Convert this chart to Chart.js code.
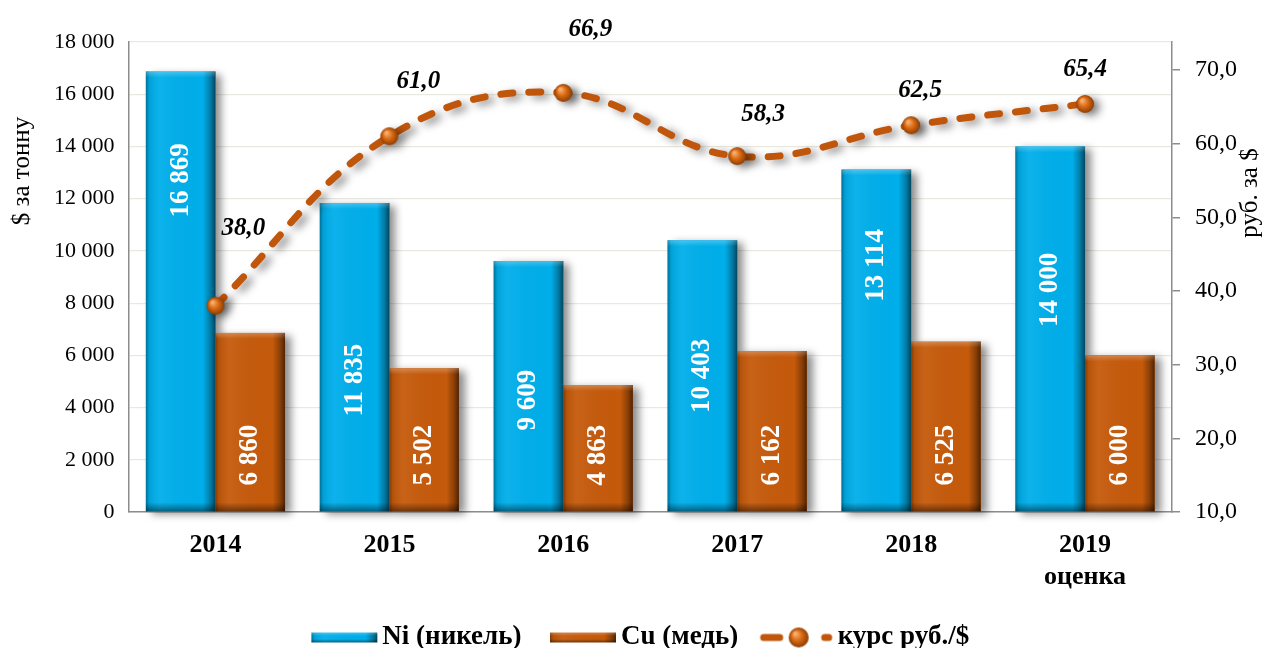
<!DOCTYPE html>
<html>
<head>
<meta charset="utf-8">
<script src="https://cdn.jsdelivr.net/npm/chart.js@4.4.0/dist/chart.umd.min.js"></script>
<style>
  html, body { margin: 0; padding: 0; background: #fff; }
  #wrap { position: relative; width: 1262px; height: 648px; }
</style>
</head>
<body>
<div id="wrap"><canvas id="chart"></canvas></div>
<script>
// Metal prices ($ per tonne) and RUB/USD rate.
const years = ['2014', '2015', '2016', '2017', '2018', ['2019', 'оценка']];
const nickel = [16869, 11835, 9609, 10403, 13114, 14000];
const copper = [6860, 5502, 4863, 6162, 6525, 6000];
const rate = [38.0, 61.0, 66.9, 58.3, 62.5, 65.4];
const rightTicks = [10, 20, 30, 40, 50, 60, 70];

// Label nudges (px): rate labels relative to the point, Ni labels relative to bar middle.
const rateLabelShift = [[28, -77], [29, -55], [27, -63], [26, -42], [9, -35], [0, -34]];
const niLabelShift = [-111, 23, 14, 0, -75, -39];

const SERIF = "'Liberation Serif', 'Times New Roman', serif";
const NI_COLOR = '#00aeea';
const CU_COLOR = '#c55a0b';
const LINE_COLOR = '#c0560b';

const fmtInt = v => String(v).replace(/\B(?=(\d{3})+(?!\d))/g, ' ');
const fmtDec = v => v.toFixed(1).replace('.', ',');

// ── Drawing helpers ───────────────────────────────────────────────────────

function bevel(ctx, x0, x1, top, bottom) {
  const w = x1 - x0;
  let g = ctx.createLinearGradient(x0, 0, x1, 0);
  g.addColorStop(0, 'rgba(0,0,0,0.35)');
  g.addColorStop(0.05, 'rgba(0,0,0,0.08)');
  g.addColorStop(0.2, 'rgba(255,255,255,0.05)');
  g.addColorStop(0.82, 'rgba(0,0,0,0)');
  g.addColorStop(0.93, 'rgba(0,0,0,0.3)');
  g.addColorStop(1, 'rgba(0,0,0,0.6)');
  ctx.fillStyle = g;
  ctx.fillRect(x0, top, w, bottom - top);
  const hl = Math.min(6, (bottom - top) / 3);
  g = ctx.createLinearGradient(0, top, 0, top + hl);
  g.addColorStop(0, 'rgba(255,255,255,0.25)');
  g.addColorStop(1, 'rgba(255,255,255,0)');
  ctx.fillStyle = g;
  ctx.fillRect(x0, top, w, hl);
  const sh = Math.min(9, (bottom - top) / 3);
  g = ctx.createLinearGradient(0, bottom - sh, 0, bottom);
  g.addColorStop(0, 'rgba(0,0,0,0)');
  g.addColorStop(1, 'rgba(0,0,0,0.45)');
  ctx.fillStyle = g;
  ctx.fillRect(x0, bottom - sh, w, sh);
}

function drawSphere(g, cx, cy, r) {
  const grad = g.createRadialGradient(cx - r * 0.35, cy - r * 0.4, r * 0.1, cx, cy, r);
  grad.addColorStop(0, '#f9b070');
  grad.addColorStop(0.45, '#dc6d16');
  grad.addColorStop(1, '#8c3c03');
  g.fillStyle = grad;
  g.beginPath();
  g.arc(cx, cy, r, 0, Math.PI * 2);
  g.fill();
}

function sphereImage(r) {
  const c = document.createElement('canvas');
  c.width = c.height = r * 2 + 2;
  drawSphere(c.getContext('2d'), r + 1, r + 1, r);
  return c;
}

// Legend icons: canvas wider than the legend box so the drawing ends near the text.
const BOX_W = 73, ICON_W = 92, ICON_H = 24;
function barIcon(color) {
  const c = document.createElement('canvas');
  c.width = ICON_W; c.height = ICON_H;
  const g = c.getContext('2d');
  const x0 = ICON_W - 67, x1 = ICON_W - 1, top = 7, bottom = 17;
  g.fillStyle = color;
  g.fillRect(x0, top, x1 - x0, bottom - top);
  bevel(g, x0, x1, top, bottom);
  return c;
}
function lineIcon() {
  const c = document.createElement('canvas');
  c.width = ICON_W; c.height = ICON_H;
  const g = c.getContext('2d');
  const o = ICON_W - 74;
  g.strokeStyle = LINE_COLOR;
  g.lineWidth = 7;
  g.lineCap = 'round';
  g.beginPath(); g.moveTo(o + 4, 12); g.lineTo(o + 20, 12); g.stroke();
  g.beginPath(); g.moveTo(o + 65, 12); g.lineTo(o + 69, 12); g.stroke();
  drawSphere(g, o + 39, 12, 10);
  return c;
}

const pointImg = sphereImage(9);

// ── Plugins ───────────────────────────────────────────────────────────────

function setShadow(ctx) {
  ctx.shadowColor = 'rgba(0,0,0,0.45)';
  ctx.shadowBlur = 8;
  ctx.shadowOffsetX = 6;
  ctx.shadowOffsetY = 3;
}

const shadowPlugin = {
  id: 'shadows',
  // Bar shadows first, so that the bars themselves (drawn next) cover them.
  beforeDatasetsDraw(chart) {
    const ctx = chart.ctx;
    ctx.save();
    setShadow(ctx);
    [0, 1].forEach(di => {
      ctx.fillStyle = chart.data.datasets[di].backgroundColor;
      chart.getDatasetMeta(di).data.forEach(el => {
        const p = el.getProps(['x', 'y', 'base', 'width'], true);
        ctx.fillRect(p.x - p.width / 2, p.y, p.width, p.base - p.y);
      });
    });
    ctx.restore();
  },
  beforeDatasetDraw(chart, args) {
    chart.ctx.save();
    if (args.meta.type === 'line') setShadow(chart.ctx);
  },
  afterDatasetDraw(chart, args) {
    const ctx = chart.ctx;
    ctx.restore();
    if (args.meta.type !== 'bar') return;
    args.meta.data.forEach(el => {
      const p = el.getProps(['x', 'y', 'base', 'width'], true);
      bevel(ctx, p.x - p.width / 2, p.x + p.width / 2, p.y, p.base);
    });
  },
};

const labelPlugin = {
  id: 'valueLabels',
  afterDatasetsDraw(chart) {
    const ctx = chart.ctx;
    ctx.save();
    ctx.fillStyle = '#fff';
    ctx.font = `bold 27px ${SERIF}`;
    ctx.textBaseline = 'middle';
    chart.getDatasetMeta(0).data.forEach((el, i) => {
      const p = el.getProps(['x', 'y', 'base'], true);
      ctx.save();
      ctx.translate(p.x, (p.y + p.base) / 2 + niLabelShift[i]);
      ctx.rotate(-Math.PI / 2);
      ctx.textAlign = 'center';
      ctx.fillText(fmtInt(nickel[i]), 0, 0);
      ctx.restore();
    });
    chart.getDatasetMeta(1).data.forEach((el, i) => {
      const p = el.getProps(['x', 'y', 'base'], true);
      ctx.save();
      ctx.translate(p.x, p.base - 26);
      ctx.rotate(-Math.PI / 2);
      ctx.textAlign = 'left';
      ctx.fillText(fmtInt(copper[i]), 0, 0);
      ctx.restore();
    });
    ctx.fillStyle = '#000';
    ctx.font = `italic bold 25px ${SERIF}`;
    ctx.textAlign = 'center';
    chart.getDatasetMeta(2).data.forEach((el, i) => {
      const [dx, dy] = rateLabelShift[i];
      ctx.fillText(fmtDec(rate[i]), el.x + dx, el.y + dy);
    });
    // axis titles
    ctx.fillStyle = '#000';
    ctx.save();
    ctx.font = `25px ${SERIF}`;
    ctx.translate(22, 171);
    ctx.rotate(-Math.PI / 2);
    ctx.fillText('$ за тонну', 0, 0);
    ctx.restore();
    ctx.save();
    ctx.font = `25px ${SERIF}`;
    ctx.translate(1250, 193);
    ctx.rotate(-Math.PI / 2);
    ctx.fillText('руб. за $', 0, 0);
    ctx.restore();
    ctx.restore();
  },
};

// ── Chart ─────────────────────────────────────────────────────────────────

new Chart(document.getElementById('chart'), {
  data: {
    labels: years,
    datasets: [
      { type: 'bar', label: 'Ni (никель)', data: nickel, backgroundColor: NI_COLOR, yAxisID: 'y',
        order: 1, categoryPercentage: 0.8, barPercentage: 1.0 },
      { type: 'bar', label: 'Cu (медь)', data: copper, backgroundColor: CU_COLOR, yAxisID: 'y',
        order: 2, categoryPercentage: 0.8, barPercentage: 1.0 },
      { type: 'line', label: 'курс руб./$', data: rate, yAxisID: 'y2', order: 0,
        borderColor: LINE_COLOR, borderWidth: 7, borderDash: [12, 16], borderCapStyle: 'round',
        tension: 0.4, pointStyle: pointImg, pointRadius: 9 },
    ],
  },
  options: {
    responsive: true,
    maintainAspectRatio: false,
    animation: false,
    layout: { padding: { top: 42, left: 40, right: 10, bottom: -13 } },
    plugins: {
      tooltip: { enabled: false },
      legend: {
        position: 'bottom',
        labels: {
          usePointStyle: true,
          pointStyleWidth: BOX_W,
          padding: 13,
          color: '#000',
          font: { family: SERIF, size: 27, weight: 'bold' },
          generateLabels: () => [
            { text: 'Ni (никель)', pointStyle: barIcon(NI_COLOR), fillStyle: 'transparent', strokeStyle: 'transparent', lineWidth: 0, datasetIndex: 0 },
            { text: 'Cu (медь)', pointStyle: barIcon(CU_COLOR), fillStyle: 'transparent', strokeStyle: 'transparent', lineWidth: 0, datasetIndex: 1 },
            // trailing spaces keep the legend block centred like the original
            { text: 'курс руб./$    ', pointStyle: lineIcon(), fillStyle: 'transparent', strokeStyle: 'transparent', lineWidth: 0, datasetIndex: 2 },
          ],
        },
      },
    },
    scales: {
      x: {
        grid: { drawOnChartArea: false, drawTicks: false },
        border: { display: true, color: '#8c8c8c', width: 1.5 },
        ticks: { color: '#000', padding: 17, maxRotation: 0,
                 font: { family: SERIF, size: 26, weight: 'bold', lineHeight: 1.25 } },
      },
      y: {
        position: 'left',
        min: 0, max: 18000,
        grid: { color: '#e9e9e0', lineWidth: 1.2, drawTicks: false },
        border: { display: true, color: '#8c8c8c', width: 1.5 },
        ticks: { stepSize: 2000, color: '#000', padding: 14,
                 font: { family: SERIF, size: 22 }, callback: v => fmtInt(v) },
      },
      y2: {
        position: 'right',
        min: 10, max: 73.8,
        afterBuildTicks: axis => { axis.ticks = rightTicks.map(v => ({ value: v })); },
        grid: { drawOnChartArea: false, drawTicks: true, tickLength: 8, color: '#8c8c8c', lineWidth: 1.5 },
        border: { display: true, color: '#8c8c8c', width: 1.5 },
        ticks: { color: '#000', padding: 15,
                 font: { family: SERIF, size: 24 }, callback: v => fmtDec(v) },
      },
    },
  },
  plugins: [shadowPlugin, labelPlugin],
});
</script>
</body>
</html>
